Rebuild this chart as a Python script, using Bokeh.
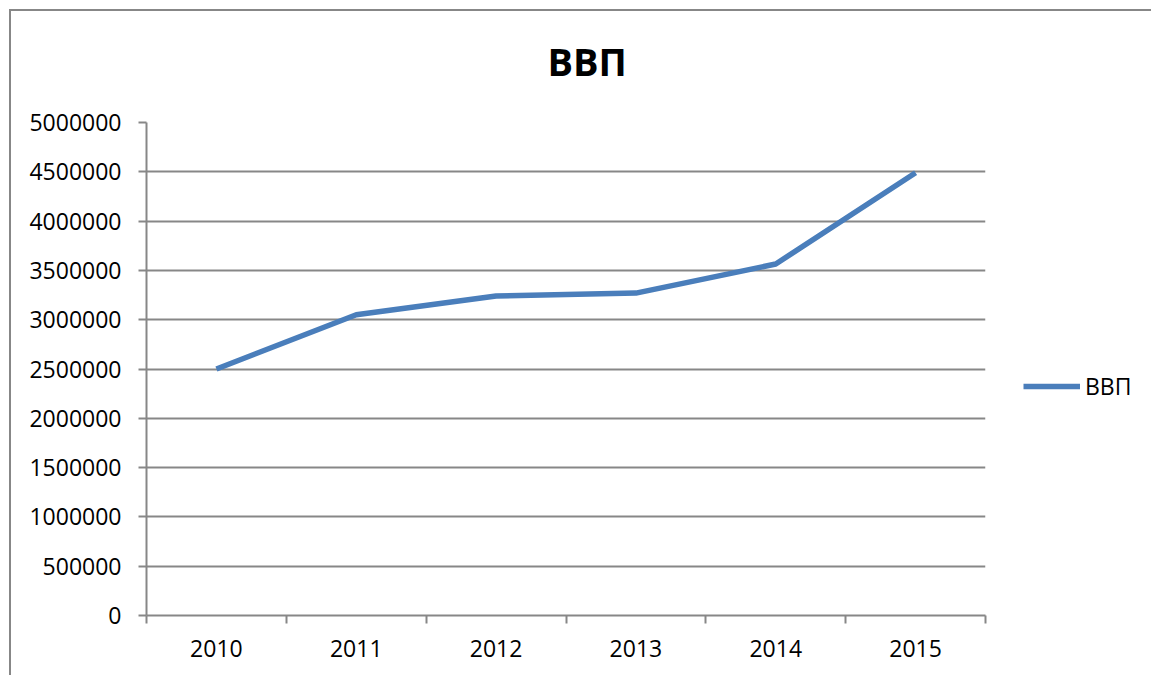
from bokeh.plotting import figure
from bokeh.models import Legend, LegendItem, FixedTicker, NumeralTickFormatter, ColumnDataSource, Title
from bokeh.embed import file_html
from bokeh.resources import INLINE

# ---- data ----
years = ["2010", "2011", "2012", "2013", "2014", "2015"]
gdp = [2500000, 3050000, 3240000, 3270000, 3565000, 4490000]
y_ticks = [0, 500000, 1000000, 1500000, 2000000, 2500000, 3000000,
           3500000, 4000000, 4500000, 5000000]
title_text = "ВВП"
series_name = "ВВП"

FONT = "Open Sans"
GRAY = "#878787"
BLUE = "#4a7ebb"

xpos = list(range(len(years)))
src = ColumnDataSource(dict(x=xpos, y=gdp, year=years))

p = figure(frame_width=839, frame_height=493,
           min_border_left=135, min_border_right=150,
           min_border_top=111, min_border_bottom=60,
           x_range=(-0.5, len(years) - 0.5), y_range=(0, y_ticks[-1]),
           output_backend="svg", toolbar_location=None, title=None)

p.styles = {"border-top": f"2px solid {GRAY}", "border-left": f"2px solid {GRAY}",
            "margin-left": "9px", "margin-top": "9px"}

# spacer between frame and title, then the title itself
spacer = Title(text=" ", text_font_size="1px", standoff=33)
p.add_layout(spacer, "above")
main_title = Title(text=title_text, align="left", offset=401, standoff=0,
                   text_font=FONT, text_font_size="38px", text_font_style="bold",
                   text_color="black")
p.add_layout(main_title, "above")

p.outline_line_color = None
p.background_fill_color = "white"
p.border_fill_color = "white"

# x axis: labels at centers, ticks at category boundaries
xa = p.xaxis[0]
xa.ticker = FixedTicker(ticks=xpos, minor_ticks=[i - 0.5 for i in range(len(years) + 1)])
xa.major_label_overrides = {i: y for i, y in enumerate(years)}
xa.major_tick_line_color = None
xa.minor_tick_in = 0
xa.minor_tick_out = 8
xa.minor_tick_line_color = GRAY
xa.minor_tick_line_width = 2
xa.axis_line_color = GRAY
xa.axis_line_width = 2
xa.major_label_text_font = FONT
xa.major_label_text_font_size = "23px"
xa.major_label_text_color = "black"
xa.major_label_standoff = 16

ya = p.yaxis[0]
ya.ticker = FixedTicker(ticks=y_ticks)
ya.formatter = NumeralTickFormatter(format="0")
ya.major_tick_in = 0
ya.major_tick_out = 8
ya.major_tick_line_color = GRAY
ya.major_tick_line_width = 2
ya.minor_tick_line_color = None
ya.axis_line_color = GRAY
ya.axis_line_width = 2
ya.major_label_text_font = FONT
ya.major_label_text_font_size = "23px"
ya.major_label_text_color = "black"
ya.major_label_standoff = 17

p.xgrid.visible = False
p.ygrid.ticker = FixedTicker(ticks=y_ticks)
p.ygrid.grid_line_color = GRAY
p.ygrid.grid_line_width = 2

r = p.line("x", "y", source=src, line_color=BLUE, line_width=5.5)

legend = Legend(items=[LegendItem(label=series_name, renderers=[r])],
                location=(38, 213), orientation="vertical")
legend.border_line_color = None
legend.background_fill_alpha = 0
legend.padding = 0
legend.margin = 0
legend.spacing = 0
legend.glyph_width = 57
legend.glyph_height = 20
legend.label_standoff = 5
legend.label_text_font = FONT
legend.label_text_font_size = "23px"
legend.label_text_color = "black"
p.add_layout(legend, "right")

open("out.html", "w").write(file_html(p, INLINE))
